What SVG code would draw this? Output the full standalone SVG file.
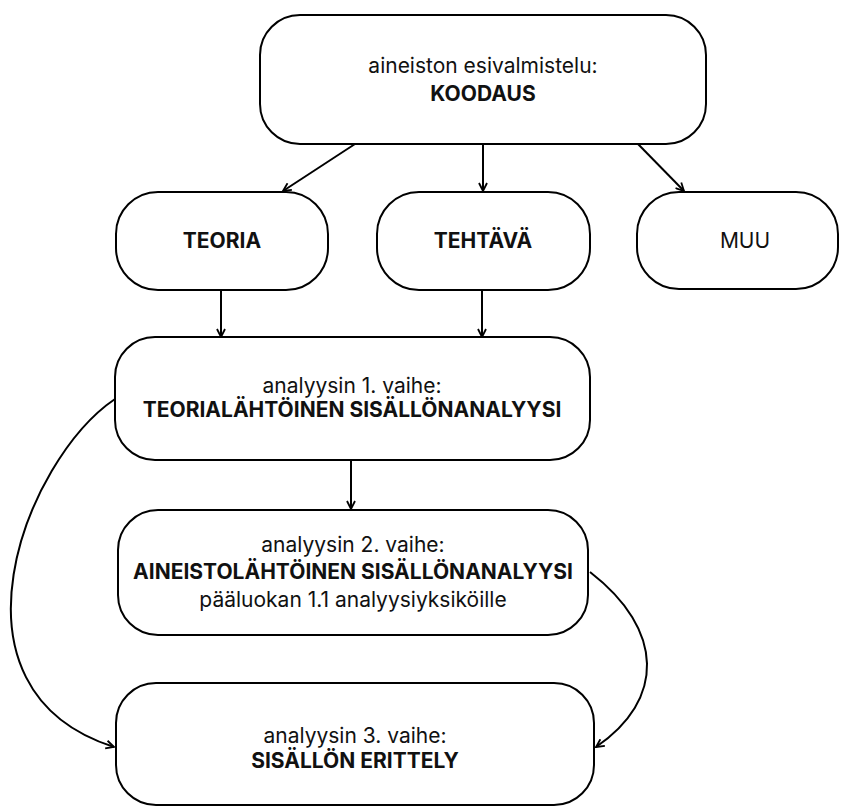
<svg xmlns="http://www.w3.org/2000/svg" width="841" height="808" viewBox="0 0 841 808">
  <defs>
    <marker id="arrow" viewBox="0 0 10 10" refX="9" refY="5" markerWidth="10" markerHeight="10" markerUnits="userSpaceOnUse" orient="auto">
      <path d="M1,1 L9,5 L1,9" fill="none" stroke="#000" stroke-width="1.8"/>
    </marker>
    <style>
      .box { fill: #fff; stroke: #000; stroke-width: 2; }
      .reg { font-family: Inter, "Liberation Sans", sans-serif; font-size: 21px; font-weight: 400; fill: #111; text-anchor: middle; }
      .bold { font-family: Inter, "Liberation Sans", sans-serif; font-size: 21px; font-weight: 700; fill: #111; text-anchor: middle; }
      .edge { fill: none; stroke: #000; stroke-width: 2; marker-end: url(#arrow); }
    </style>
  </defs>
  <rect width="841" height="808" fill="#fff"/>

  <g id="connectors">
    <line class="edge" x1="355" y1="144" x2="283" y2="191"/>
    <line class="edge" x1="483" y1="144" x2="483" y2="191"/>
    <line class="edge" x1="638" y1="144" x2="684" y2="191"/>
    <line class="edge" x1="221" y1="290" x2="221" y2="337"/>
    <line class="edge" x1="482" y1="290" x2="482" y2="337"/>
    <line class="edge" x1="351" y1="460" x2="351" y2="509"/>
    <path class="edge" d="M115,399 C25,460 -65,690 114,747"/>
    <path class="edge" d="M590,572 C665,630 665,700 596,747"/>
  </g>

  <g id="koodaus">
    <rect class="box" x="260" y="15" width="446" height="129" rx="40"/>
    <text class="reg" x="483" y="73">aineiston esivalmistelu:</text>
    <text class="bold" x="483" y="101">KOODAUS</text>
  </g>

  <g id="teoria">
    <rect class="box" x="116" y="192" width="212" height="98" rx="42"/>
    <text class="bold" x="222" y="248">TEORIA</text>
  </g>

  <g id="tehtava">
    <rect class="box" x="377" y="192" width="213" height="98" rx="42"/>
    <text class="bold" x="483" y="248">TEHTÄVÄ</text>
  </g>

  <g id="muu">
    <rect class="box" x="637" y="192" width="201" height="97" rx="42"/>
    <text class="reg" x="745" y="248">MUU</text>
  </g>

  <g id="vaihe1">
    <rect class="box" x="115" y="337" width="475" height="123" rx="40"/>
    <text class="reg" x="352" y="393">analyysin 1. vaihe:</text>
    <text class="bold" x="352" y="417">TEORIALÄHTÖINEN SISÄLLÖNANALYYSI</text>
  </g>

  <g id="vaihe2">
    <rect class="box" x="118" y="510" width="470" height="125" rx="40"/>
    <text class="reg" x="353" y="552">analyysin 2. vaihe:</text>
    <text class="bold" x="353" y="579">AINEISTOLÄHTÖINEN SISÄLLÖNANALYYSI</text>
    <text class="reg" x="353" y="607">pääluokan 1.1 analyysiyksiköille</text>
  </g>

  <g id="vaihe3">
    <rect class="box" x="116" y="683" width="478" height="122" rx="40"/>
    <text class="reg" x="355" y="743">analyysin 3. vaihe:</text>
    <text class="bold" x="355" y="768">SISÄLLÖN ERITTELY</text>
  </g>
</svg>
